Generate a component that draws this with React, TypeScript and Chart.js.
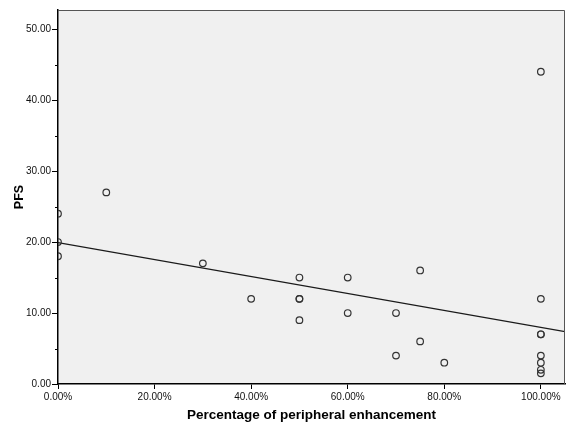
import React, { useEffect, useRef } from "react";
import { Chart, registerables } from "chart.js";

Chart.register(...registerables);

// ---- Data ----
const pctEnhancement = [0, 0, 0, 10, 30, 40, 50, 50, 50, 50, 60, 60, 70, 70, 75, 75, 80, 100, 100, 100, 100, 100, 100, 100, 100];
const pfsValues = [24, 20, 18, 27, 17, 12, 15, 12, 12, 9, 15, 10, 10, 4, 16, 6, 3, 44, 12, 7, 7, 4, 3, 2, 1.5];
const xTickValues = [0, 20, 40, 60, 80, 100];
const yTickValues = [0, 10, 20, 30, 40, 50];
const yMinorTickValues = [5, 15, 25, 35, 45];
const xRange = [0, 105];
const yRange = [0, 52.7];
const xTitle = "Percentage of peripheral enhancement";
const yTitle = "PFS";

// least-squares fit line from the data
function fitLine(xs: number[], ys: number[]) {
  const n = xs.length;
  const mx = xs.reduce((a, b) => a + b, 0) / n;
  const my = ys.reduce((a, b) => a + b, 0) / n;
  let sxy = 0;
  let sxx = 0;
  for (let i = 0; i < n; i++) {
    sxy += (xs[i] - mx) * (ys[i] - my);
    sxx += (xs[i] - mx) * (xs[i] - mx);
  }
  const slope = sxy / sxx;
  return { slope, intercept: my - slope * mx };
}

const FONT = "'Liberation Sans', Arial, sans-serif";

export default function App() {
  const ref = useRef<HTMLCanvasElement | null>(null);

  useEffect(() => {
    if (!ref.current) return;
    const fit = fitLine(pctEnhancement, pfsValues);
    const linePts = xRange.map((x) => ({ x, y: fit.intercept + fit.slope * x }));

    const framePlugin = {
      id: "frame",
      beforeDraw(chart: any) {
        const { ctx, chartArea: a } = chart;
        ctx.save();
        ctx.fillStyle = "#f0f0f0";
        ctx.fillRect(a.left, a.top, a.right - a.left, a.bottom - a.top);
        ctx.restore();
      },
      afterDraw(chart: any) {
        const { ctx, chartArea: a } = chart;
        ctx.save();
        ctx.strokeStyle = "#555";
        ctx.lineWidth = 1;
        ctx.beginPath();
        ctx.moveTo(a.left, a.top + 0.5);
        ctx.lineTo(a.right - 0.5, a.top + 0.5);
        ctx.lineTo(a.right - 0.5, a.bottom);
        ctx.stroke();
        // minor y ticks
        const ys = chart.scales.y;
        ctx.strokeStyle = "#000";
        ctx.lineWidth = 1;
        yMinorTickValues.forEach((v) => {
          const py = Math.round(ys.getPixelForValue(v)) + 0.5;
          ctx.beginPath();
          ctx.moveTo(a.left - 3, py);
          ctx.lineTo(a.left, py);
          ctx.stroke();
        });
        ctx.restore();
      },
    };

    const chart = new Chart(ref.current, {
      type: "scatter",
      data: {
        datasets: [
          {
            type: "line",
            data: linePts,
            borderColor: "#1a1a1a",
            borderWidth: 1.3,
            pointRadius: 0,
            fill: false,
            order: 2,
          } as any,
          {
            data: pctEnhancement.map((x, i) => ({ x, y: pfsValues[i] })),
            pointStyle: "circle",
            pointRadius: 3.3,
            pointBorderWidth: 1.2,
            borderColor: "#333",
            backgroundColor: "rgba(0,0,0,0)",
            pointBackgroundColor: "rgba(0,0,0,0)",
            pointBorderColor: "#333",
            order: 1,
          } as any,
        ],
      },
      options: {
        responsive: false,
        animation: false,
        events: [],
        layout: { autoPadding: false, padding: { top: 10, right: 2, left: 0, bottom: 0 } },
        plugins: {
          legend: { display: false },
          tooltip: { enabled: false },
        },
        scales: {
          x: {
            type: "linear",
            min: xRange[0],
            max: xRange[1],
            afterBuildTicks: (s: any) => {
              s.ticks = xTickValues.map((v) => ({ value: v }));
            },
            afterFit: (s: any) => {
              s.height = 42;
              s.paddingLeft = 0;
              s.paddingRight = 0;
            },
            border: { display: true, color: "#000", width: 1.5 },
            grid: { drawOnChartArea: false, drawTicks: true, tickLength: 5, tickColor: "#000", tickWidth: 1 },
            ticks: {
              padding: 2,
              maxRotation: 0,
              autoSkip: false,
              color: "#111",
              font: { family: FONT, size: 10 },
              callback: (v: any) => Number(v).toFixed(2) + "%",
            },
            title: {
              display: true,
              text: xTitle,
              color: "#000",
              font: { family: FONT, size: 13.5, weight: "bold" },
              padding: { top: 0, bottom: 3 },
            },
          },
          y: {
            type: "linear",
            min: yRange[0],
            max: yRange[1],
            afterBuildTicks: (s: any) => {
              s.ticks = yTickValues.map((v) => ({ value: v }));
            },
            afterFit: (s: any) => {
              s.width = 58;
            },
            border: { display: true, color: "#000", width: 1.5 },
            grid: { drawOnChartArea: false, drawTicks: true, tickLength: 6, tickColor: "#000", tickWidth: 1 },
            ticks: {
              padding: 1,
              autoSkip: false,
              color: "#111",
              font: { family: FONT, size: 10 },
              callback: (v: any) => Number(v).toFixed(2),
            },
            title: {
              display: true,
              text: yTitle,
              color: "#000",
              font: { family: FONT, size: 12.5, weight: "bold" },
              padding: { top: 12, bottom: 0 },
            },
          },
        },
      } as any,
      plugins: [framePlugin],
    });
    return () => chart.destroy();
  }, []);

  return (
    <div style={{ position: "absolute", left: 0, top: 0, width: 567, height: 426, background: "#fff" }}>
      <canvas ref={ref} width={567} height={426} />
    </div>
  );
}
